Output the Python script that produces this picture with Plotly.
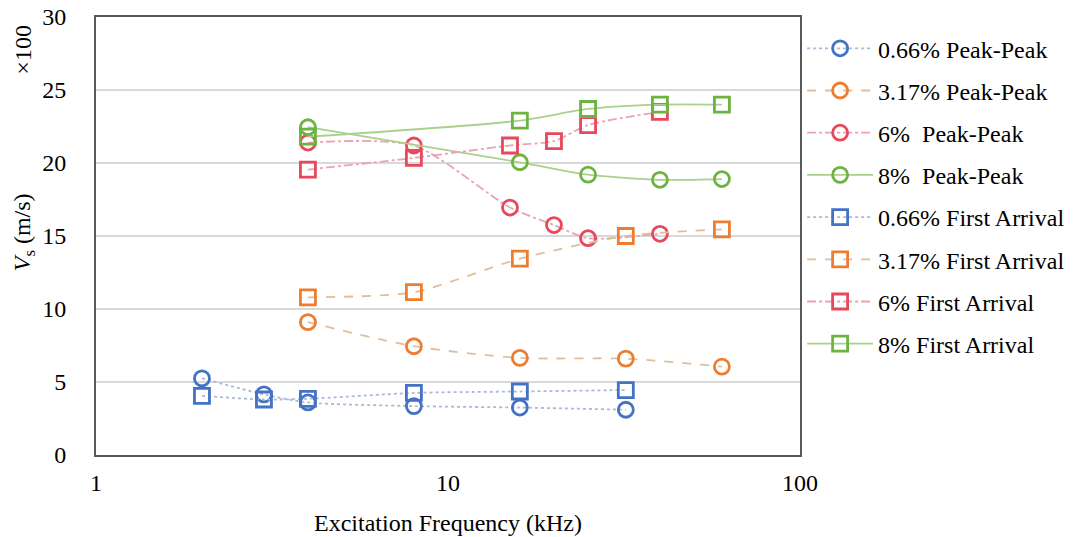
import plotly.graph_objects as go

# ---- data ----
names = ["0.66% Peak-Peak", "3.17% Peak-Peak", "6%  Peak-Peak", "8%  Peak-Peak",
         "0.66% First Arrival", "3.17% First Arrival", "6% First Arrival", "8% First Arrival"]

f_066_pp = [2, 3, 4, 8, 16, 32]
v_066_pp = [5.25, 4.15, 3.6, 3.35, 3.25, 3.1]
f_317_pp = [4, 8, 16, 32, 60]
v_317_pp = [9.1, 7.45, 6.65, 6.6, 6.05]
f_6_pp = [4, 8, 15, 20, 25, 40]
v_6_pp = [21.4, 21.2, 16.95, 15.75, 14.85, 15.15]
f_8_pp = [4, 16, 25, 40, 60]
v_8_pp = [22.45, 20.05, 19.2, 18.85, 18.9]

f_066_fa = [2, 3, 4, 8, 16, 32]
v_066_fa = [4.05, 3.8, 3.85, 4.25, 4.35, 4.45]
f_317_fa = [4, 8, 16, 32, 60]
v_317_fa = [10.8, 11.15, 13.45, 15.0, 15.45]
f_6_fa = [4, 8, 15, 20, 25, 40]
v_6_fa = [19.55, 20.35, 21.2, 21.5, 22.6, 23.5]
f_8_fa = [4, 16, 25, 40, 60]
v_8_fa = [21.8, 22.9, 23.7, 24.0, 24.0]

xs = [f_066_pp, f_317_pp, f_6_pp, f_8_pp, f_066_fa, f_317_fa, f_6_fa, f_8_fa]
ys = [v_066_pp, v_317_pp, v_6_pp, v_8_pp, v_066_fa, v_317_fa, v_6_fa, v_8_fa]

x_ticks = [1, 10, 100]

# ---- styles ----
marker_cols = ["#4472C4", "#ED7D31", "#E8475C", "#6DB33F"] * 2
line_cols = ["#A9B9DC", "#DDBF9F", "#E9A3B2", "#A9D18E"] * 2
dashes = ["dot", "dash", "dashdot", "solid"] * 2
symbols = ["circle-open"] * 4 + ["square-open"] * 4

FONT = "Liberation Serif"
FS = 24

fig = go.Figure()
for i in range(8):
    fig.add_trace(go.Scatter(
        x=xs[i], y=ys[i], name=names[i], mode="lines+markers",
        legendgroup=f"g{i}",
        line=dict(color=line_cols[i], width=1.8, dash=dashes[i], shape="spline", smoothing=0.7),
        marker=dict(symbol=symbols[i], size=15, color=marker_cols[i],
                    line=dict(width=2.8, color=marker_cols[i])),
    ))

fig.update_layout(
    width=1080, height=537,
    margin=dict(l=96, r=280, t=17, b=82, autoexpand=False),
    paper_bgcolor="white", plot_bgcolor="white",
    font=dict(family=FONT, size=FS, color="#000000"),
    showlegend=True,
    legend=dict(x=1.003, xanchor="left", y=0.979, yanchor="top",
                font=dict(family=FONT, size=FS, color="#000"),
                tracegroupgap=8, itemwidth=66,
                bgcolor="rgba(0,0,0,0)"),
    xaxis=dict(type="log", range=[0, 2], tickvals=x_ticks, ticktext=[str(t) for t in x_ticks],
               showgrid=False, zeroline=False, automargin=False,
               showline=True, linecolor="#595959", linewidth=2, mirror=True,
               ticks="", tickfont=dict(family=FONT, size=FS), ticklabelstandoff=5,
               title=dict(text="Excitation Frequency (kHz)", font=dict(family=FONT, size=FS), standoff=19)),
    yaxis=dict(range=[0, 30], dtick=5, showgrid=True, gridcolor="#D9D9D9", gridwidth=1.5,
               zeroline=False, showline=True, linecolor="#595959", linewidth=2, mirror=True,
               automargin=False,
               ticks="", tickfont=dict(family=FONT, size=FS), ticklabelstandoff=23),
    annotations=[
        dict(text="×100", xref="paper", yref="paper", x=-0.104, y=0.925,
             xanchor="center", yanchor="middle", textangle=-90, showarrow=False,
             font=dict(family=FONT, size=24, color="#000")),
        dict(text="<i>V</i><sub>s</sub> (m/s)", xref="paper", yref="paper", x=-0.102, y=0.509,
             xanchor="center", yanchor="middle", textangle=-90, showarrow=False,
             font=dict(family=FONT, size=FS, color="#000")),
    ],
)

fig.write_html("out.html")
